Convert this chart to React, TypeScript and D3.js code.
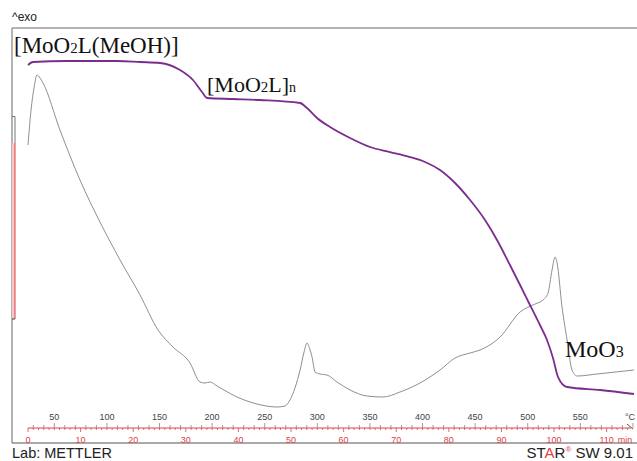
import React from "react";
import * as d3 from "d3";

// TG curve (temperature °C, relative mass %)
const tgTemp = [25, 29.8, 62.1, 109.6, 131.5, 150.5, 169.5, 181.8, 190.4, 195.2, 219.9, 245.5, 283.6, 290.2, 299.7, 312.1, 331.1, 350.1, 369.1, 388.1, 402.4, 416.6, 430.9, 445.2, 459.4, 470.8, 483.1, 492.7, 501.2, 511.6, 518.3, 524.0, 528.8, 537.4, 568.8, 601];
const tgMass = [99.28, 99.82, 100, 100, 99.82, 99.64, 98.38, 96.58, 94.41, 93.33, 93.15, 92.97, 92.43, 91.53, 89.73, 88.11, 86.13, 84.5, 83.6, 82.7, 81.8, 80.36, 78.02, 74.95, 71.35, 67.75, 63.24, 59.64, 56.4, 52.43, 49.73, 46.49, 43.06, 41.26, 40.72, 40.0];

// DSC curve (temperature °C, heat flow, arbitrary units)
const dscTemp = [25, 27.9, 30.7, 33.6, 36.4, 39.3, 55.4, 74.4, 93.4, 112.5, 131.5, 148.6, 162.8, 179.0, 188.5, 193.3, 198.0, 204.7, 223.7, 242.7, 261.7, 269.3, 274.0, 283.6, 287.4, 290.2, 293.1, 295.0, 297.8, 302.6, 309.2, 318.7, 331.1, 347.2, 362.5, 378.6, 397.6, 416.6, 430.9, 445.2, 454.7, 473.7, 492.7, 507.0, 514.5, 519.3, 523.1, 526.0, 527.9, 532.6, 537.4, 542.1, 546.9, 565.9, 601];
const dscFlow = [28.5, 32.0, 34.2, 35.5, 35.2, 34.7, 30.0, 25.0, 20.8, 17.0, 13.5, 10.0, 8.3, 6.7, 4.8, 4.7, 4.8, 4.4, 3.3, 2.6, 2.3, 2.4, 3.0, 6.0, 7.8, 8.7, 8.0, 7.3, 5.8, 5.6, 5.5, 4.8, 4.0, 3.4, 3.3, 3.8, 4.7, 6.0, 7.2, 7.7, 8.0, 9.3, 11.8, 12.6, 13.0, 13.7, 16.0, 17.3, 16.7, 12.3, 9.0, 6.0, 5.4, 5.6, 6.0];

const tempTicks = [50, 100, 150, 200, 250, 300, 350, 400, 450, 500, 550];
const timeTicks = [0, 10, 20, 30, 40, 50, 60, 70, 80, 90, 100, 110];

export default function App() {
  const W = 637, H = 461;
  const x = d3.scaleLinear().domain([25, 601]).range([28, 634]);
  const xTime = d3.scaleLinear().domain([0, 115.2]).range([28, 634]);
  const yTG = d3.scaleLinear().domain([100, 40]).range([61, 394]);
  const yDSC = d3.scaleLinear().domain([0, 35.5]).range([430, 75]);

  const tgData = tgTemp.map((t, i) => [t, tgMass[i]] as [number, number]);
  const dscData = dscTemp.map((t, i) => [t, dscFlow[i]] as [number, number]);

  const tgLine = d3.line<[number, number]>().x(d => x(d[0])).y(d => yTG(d[1])).curve(d3.curveMonotoneX);
  const dscLine = d3.line<[number, number]>().x(d => x(d[0])).y(d => yDSC(d[1])).curve(d3.curveMonotoneX);

  const rulerY = 428;
  const red = "#e0404a";
  const minorMin = d3.range(0, 115, 1);
  const minorTemp = d3.range(30, 601, 10);
  const serif = "Liberation Serif, Times New Roman, serif";

  return (
    <svg width={W} height={H} style={{ position: "absolute", left: 0, top: 0, background: "#fff" }} fontFamily="Liberation Sans, Arial, sans-serif">
      {/* frame */}
      <line x1={12} y1={28} x2={637} y2={28} stroke="#9a9a9a" strokeWidth={1.5} />
      <line x1={12} y1={28} x2={12} y2={443} stroke="#9a9a9a" strokeWidth={1.5} />
      <line x1={12} y1={443} x2={637} y2={443} stroke="#555" strokeWidth={1} />
      <text x={12} y={21} fontSize={12} fill="#222">^exo</text>

      {/* left scale bracket */}
      <rect x={12} y={143} width={3} height={176} fill="#f6c6c8" />
      <path d="M12,116.5 H15 V143" fill="none" stroke="#777" strokeWidth={1} />
      <line x1={15} y1={143} x2={15} y2={319} stroke={red} strokeWidth={1} />
      <line x1={12} y1={319} x2={15} y2={319} stroke="#444" strokeWidth={1} />

      {/* curves */}
      <path d={dscLine(dscData) || ""} fill="none" stroke="#8f8f8f" strokeWidth={1} />
      <path d={tgLine(tgData) || ""} fill="none" stroke="#7b2d8e" strokeWidth={1.8} />

      {/* annotations */}
      <text x={14} y={53} fontFamily={serif} fontSize={23} fill="#111">
        [MoO<tspan fontSize={15}>2</tspan>L(MeOH)]
      </text>
      <text x={207} y={92} fontFamily={serif} fontSize={22} fill="#111">
        [MoO<tspan fontSize={15}>2</tspan>L]<tspan fontSize={14}>n</tspan>
      </text>
      <text x={565} y={357} fontFamily={serif} fontSize={24} fill="#111">
        MoO<tspan fontSize={16}>3</tspan>
      </text>

      {/* ruler */}
      <line x1={28} y1={rulerY} x2={631} y2={rulerY} stroke={red} strokeWidth={1} />
      <path d={`M627,${rulerY - 4} L633,${rulerY + 1}`} stroke="#555" strokeWidth={1} />
      {minorTemp.map(t => (
        <line key={"tt" + t} x1={x(t)} x2={x(t)} y1={rulerY} y2={rulerY - (t % 50 === 0 ? 5 : 3)} stroke="#888" strokeWidth={0.8} />
      ))}
      {minorMin.map(m => (
        <line key={"mt" + m} x1={xTime(m)} x2={xTime(m)} y1={rulerY} y2={rulerY + (m % 10 === 0 ? 4 : 2)} stroke={red} strokeWidth={0.8} />
      ))}
      {tempTicks.map(t => (
        <text key={"tl" + t} x={x(t)} y={420} fontSize={9} fill="#444" textAnchor="middle">{t}</text>
      ))}
      <text x={630} y={420} fontSize={9} fill="#444" textAnchor="middle">°C</text>
      {timeTicks.map(m => (
        <text key={"ml" + m} x={xTime(m)} y={443} fontSize={9} fill={red} textAnchor="middle">{m}</text>
      ))}
      <text x={625} y={443} fontSize={9} fill={red} textAnchor="middle">min</text>

      {/* footer */}
      <text x={12} y={458} fontSize={14.5} fill="#222">Lab: METTLER</text>
      <text x={633} y={458} fontSize={15} fill="#222" textAnchor="end">
        ST<tspan fill={red}>A</tspan>R<tspan fill={red} fontSize={8} dy={-6}>®</tspan><tspan dy={6}> SW 9.01</tspan>
      </text>
    </svg>
  );
}
